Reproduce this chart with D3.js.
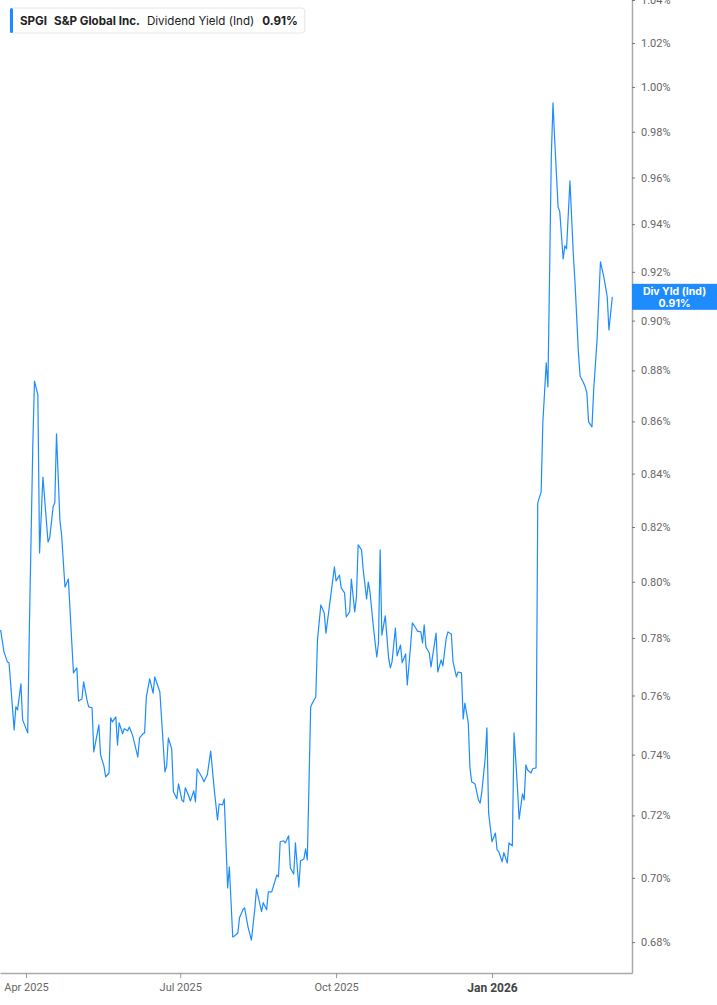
<!DOCTYPE html>
<html>
<head>
<meta charset="utf-8">
<script src="https://cdn.jsdelivr.net/npm/d3@7"></script>
<style>
  body { margin: 0; background: #fff; }
  svg { display: block; font-family: Inter, "Noto Sans", sans-serif; }
</style>
</head>
<body>
<div id="chart"></div>
<script>
// SPGI dividend yield (indicated), %
const dates = [
  "2025-03-17","2025-03-19","2025-03-21","2025-03-22","2025-03-25","2025-03-26","2025-03-27","2025-03-29","2025-03-30",
  "2025-04-02","2025-04-03","2025-04-05","2025-04-06","2025-04-08","2025-04-09","2025-04-11","2025-04-14","2025-04-15",
  "2025-04-17","2025-04-18","2025-04-19","2025-04-21","2025-04-22","2025-04-24","2025-04-26","2025-04-29",
  "2025-05-01","2025-05-02","2025-05-04","2025-05-05","2025-05-07","2025-05-08","2025-05-10","2025-05-11","2025-05-14",
  "2025-05-15","2025-05-17","2025-05-18","2025-05-20","2025-05-21","2025-05-22","2025-05-24","2025-05-25","2025-05-26",
  "2025-05-28","2025-05-29","2025-05-31",
  "2025-06-01","2025-06-03","2025-06-06","2025-06-07","2025-06-09","2025-06-10","2025-06-11","2025-06-13","2025-06-15",
  "2025-06-16","2025-06-19","2025-06-22","2025-06-23","2025-06-24","2025-06-26","2025-06-27","2025-06-29","2025-06-30",
  "2025-07-02","2025-07-03","2025-07-04","2025-07-06","2025-07-07","2025-07-09","2025-07-10","2025-07-11","2025-07-14",
  "2025-07-15","2025-07-17","2025-07-19","2025-07-21","2025-07-23","2025-07-24","2025-07-26","2025-07-27","2025-07-29",
  "2025-07-30",
  "2025-08-01","2025-08-02","2025-08-04","2025-08-05","2025-08-07","2025-08-08","2025-08-10","2025-08-12","2025-08-14",
  "2025-08-15","2025-08-18","2025-08-19","2025-08-21","2025-08-22","2025-08-24","2025-08-27","2025-08-28","2025-08-29",
  "2025-08-31",
  "2025-09-01","2025-09-03","2025-09-04","2025-09-06","2025-09-07","2025-09-09","2025-09-10","2025-09-12","2025-09-13",
  "2025-09-14","2025-09-16","2025-09-17","2025-09-19","2025-09-20","2025-09-22","2025-09-24","2025-09-25","2025-09-27",
  "2025-09-30",
  "2025-10-01","2025-10-03","2025-10-04","2025-10-06","2025-10-07","2025-10-09","2025-10-10","2025-10-12","2025-10-13",
  "2025-10-14","2025-10-16","2025-10-17","2025-10-19","2025-10-20","2025-10-21","2025-10-23","2025-10-25","2025-10-26",
  "2025-10-27","2025-10-28","2025-10-30",
  "2025-11-01","2025-11-02","2025-11-03","2025-11-05","2025-11-06","2025-11-08","2025-11-09","2025-11-11","2025-11-12",
  "2025-11-14","2025-11-15","2025-11-17","2025-11-18","2025-11-20","2025-11-21","2025-11-22","2025-11-23","2025-11-25",
  "2025-11-26","2025-11-29","2025-11-30",
  "2025-12-02","2025-12-03","2025-12-05","2025-12-06","2025-12-08","2025-12-09","2025-12-11","2025-12-12","2025-12-14",
  "2025-12-15","2025-12-16","2025-12-18","2025-12-19","2025-12-20","2025-12-22","2025-12-24","2025-12-25","2025-12-26",
  "2025-12-28","2025-12-29","2025-12-30",
  "2026-01-01","2026-01-03","2026-01-04","2026-01-05","2026-01-07","2026-01-08","2026-01-10","2026-01-11","2026-01-13",
  "2026-01-14","2026-01-16","2026-01-17","2026-01-19","2026-01-20","2026-01-21","2026-01-22","2026-01-24","2026-01-25",
  "2026-01-27","2026-01-28","2026-01-30","2026-01-31",
  "2026-02-02","2026-02-03","2026-02-05","2026-02-06","2026-02-07","2026-02-09","2026-02-10","2026-02-12","2026-02-13",
  "2026-02-14","2026-02-16","2026-02-18","2026-02-19","2026-02-21","2026-02-22","2026-02-24","2026-02-25","2026-02-26",
  "2026-02-27",
  "2026-03-01","2026-03-02","2026-03-04","2026-03-06","2026-03-08","2026-03-10","2026-03-11","2026-03-13"
];

const yields = [
  0.7828,0.7751,0.7716,0.7713,0.7483,0.7561,0.7551,0.7640,0.7517,
  0.7473,0.7839,0.8502,0.8758,0.8704,0.8105,0.8387,0.8145,0.8160,
  0.8275,0.8290,0.8552,0.8226,0.8171,0.7981,0.8010,0.7678,
  0.7695,0.7581,0.7588,0.7647,0.7584,0.7561,0.7558,0.7409,0.7500,
  0.7399,0.7362,0.7326,0.7339,0.7524,0.7510,0.7527,0.7432,0.7507,
  0.7470,0.7487,0.7480,
  0.7493,0.7463,0.7392,0.7456,0.7470,0.7473,0.7595,0.7657,0.7608,
  0.7664,0.7612,0.7343,0.7362,0.7456,0.7419,0.7277,0.7254,0.7303,
  0.7250,0.7244,0.7290,0.7264,0.7247,0.7280,0.7244,0.7353,0.7323,
  0.7310,0.7333,0.7412,0.7290,0.7185,0.7237,0.7234,0.7254,0.6968,
  0.7035,
  0.6816,0.6819,0.6828,0.6875,0.6900,0.6906,0.6847,0.6806,0.6900,
  0.6965,0.6894,0.6922,0.6900,0.6956,0.6956,0.7009,0.7003,0.7115,
  0.7118,
  0.7111,0.7134,0.7031,0.7012,0.7111,0.6971,0.7054,0.7060,0.7092,
  0.7057,0.7561,0.7574,0.7595,0.7792,0.7917,0.7888,0.7817,0.7910,
  0.8054,
  0.8003,0.8024,0.7978,0.7960,0.7874,0.7892,0.8010,0.7892,0.7945,
  0.8134,0.8116,0.8043,0.7938,0.7999,0.7963,0.7839,0.7733,0.7782,
  0.8116,0.7810,0.7878,
  0.7729,0.7695,0.7716,0.7835,0.7737,0.7775,0.7713,0.7744,0.7636,
  0.7775,0.7853,0.7835,0.7824,0.7821,0.7782,0.7846,0.7768,0.7747,
  0.7699,0.7817,0.7681,
  0.7723,0.7702,0.7799,0.7821,0.7814,0.7716,0.7664,0.7681,0.7678,
  0.7520,0.7574,0.7507,0.7356,0.7310,0.7303,0.7250,0.7240,0.7277,
  0.7389,0.7490,0.7208,
  0.7115,0.7143,0.7089,0.7083,0.7051,0.7080,0.7047,0.7111,0.7102,
  0.7473,0.7293,0.7188,0.7270,0.7250,0.7366,0.7349,0.7339,0.7353,
  0.7356,0.8290,0.8331,0.8594,
  0.8830,0.8735,0.9690,0.9929,0.9764,0.9474,0.9452,0.9254,0.9309,
  0.9296,0.9585,0.9271,0.9154,0.8870,0.8778,0.8751,0.8735,0.8711,
  0.8598,
  0.8579,0.8723,0.8922,0.9242,0.9179,0.9097,0.8962,0.9097
];

const yTicks = [0.68, 0.70, 0.72, 0.74, 0.76, 0.78, 0.80, 0.82, 0.84, 0.86, 0.88, 0.90, 0.92, 0.94, 0.96, 0.98, 1.00, 1.02, 1.04];
const xTickDates = ["2025-04-01", "2025-07-01", "2025-10-01", "2026-01-01"];
const xTickLabels = ["Apr 2025", "Jul 2025", "Oct 2025", "Jan 2026"];

const ticker = "SPGI";
const company = "S&P Global Inc.";
const seriesName = "Dividend Yield (Ind)";
const shortName = "Div Yld (Ind)";

const width = 717;
const height = 1005;
const plotW = 632;
const plotH = 973;
const blue = "#1e8cff";

const parse = d3.timeParse("%Y-%m-%d");
const data = dates.map((d, i) => ({ date: parse(d), value: yields[i] }));
const last = data[data.length - 1];
const fmt = v => d3.format(".2f")(v) + "%";

// time scale anchored on the quarter ticks, then stretched to the plot edges
const x = d3.scaleTime()
  .domain([parse("2025-04-01"), parse("2026-01-01")])
  .range([26, 492]);
x.domain([x.invert(0), x.invert(plotW)]).range([0, plotW]);

const y = d3.scaleLog()
  .domain([0.6706, 1.04])
  .range([plotH, 0]);

const svg = d3.select("#chart")
  .append("svg")
  .attr("width", width)
  .attr("height", height)
  .attr("viewBox", [0, 0, width, height]);

// y axis on the right
const yAxis = svg.append("g")
  .attr("transform", `translate(${plotW},0)`)
  .call(d3.axisRight(y).tickValues(yTicks).tickFormat(fmt).tickSize(3).tickSizeOuter(0).tickPadding(6));
yAxis.select(".domain").attr("stroke", "#aaa").attr("stroke-width", 1.5);
yAxis.selectAll(".tick line").attr("stroke", "#777");
yAxis.selectAll(".tick text")
  .attr("fill", "#666")
  .attr("font-size", 11)
  .attr("font-family", "Roboto, sans-serif");

// x axis
const xAxis = svg.append("g")
  .attr("transform", `translate(0,${plotH})`)
  .call(d3.axisBottom(x)
    .tickValues(xTickDates.map(parse))
    .tickFormat((d, i) => xTickLabels[i])
    .tickSize(5).tickSizeOuter(0).tickPadding(5));
xAxis.select(".domain").attr("stroke", "#aaa").attr("stroke-width", 1.5);
xAxis.selectAll(".tick line").attr("stroke", "#999");
xAxis.selectAll(".tick text")
  .attr("fill", (d, i) => i === 3 ? "#444" : "#666")
  .attr("font-weight", (d, i) => i === 3 ? "bold" : "normal")
  .attr("font-size", (d, i) => i === 3 ? 12 : 11)
  .attr("font-family", "Roboto, sans-serif");

// the series
const line = d3.line()
  .x(d => x(d.date))
  .y(d => y(d.value));

svg.append("path")
  .datum(data)
  .attr("fill", "none")
  .attr("stroke", blue)
  .attr("stroke-width", 1.2)
  .attr("stroke-linejoin", "round")
  .attr("d", line);

// last value tag on the axis
const tag = svg.append("g")
  .attr("transform", `translate(${plotW},${y(last.value)})`);
tag.append("rect")
  .attr("x", 0)
  .attr("y", -13)
  .attr("width", width - plotW)
  .attr("height", 26)
  .attr("fill", blue);
tag.append("text")
  .attr("x", (width - plotW) / 2)
  .attr("y", -2)
  .attr("text-anchor", "middle")
  .attr("fill", "#fff")
  .attr("font-size", 10.5)
  .attr("font-weight", 700)
  .text(shortName);
tag.append("text")
  .attr("x", (width - plotW) / 2)
  .attr("y", 10.5)
  .attr("text-anchor", "middle")
  .attr("fill", "#fff")
  .attr("font-size", 10.5)
  .attr("font-weight", 700)
  .text(d3.format(".2f")(last.value) + "%");

// legend box
const legend = svg.append("g").attr("transform", "translate(10,8)");
const box = legend.append("rect")
  .attr("height", 25)
  .attr("rx", 3)
  .attr("fill", "#fff")
  .attr("stroke", "#e4e6ea");
legend.append("rect")
  .attr("width", 3)
  .attr("height", 25)
  .attr("rx", 1.5)
  .attr("fill", blue);

const lt = legend.append("text")
  .attr("x", 10)
  .attr("y", 17)
  .attr("font-size", 11.6)
  .attr("fill", "#222");
lt.append("tspan").attr("font-weight", 700).text(ticker);
lt.append("tspan").attr("dx", 7).attr("font-weight", 700).text(company);
lt.append("tspan").attr("dx", 7).attr("font-weight", 400).text(seriesName);
lt.append("tspan").attr("dx", 8).attr("font-weight", 700).text(fmt(last.value));
const bb = lt.node().getBBox();
box.attr("width", bb.x + bb.width + 7);
</script>
</body>
</html>
